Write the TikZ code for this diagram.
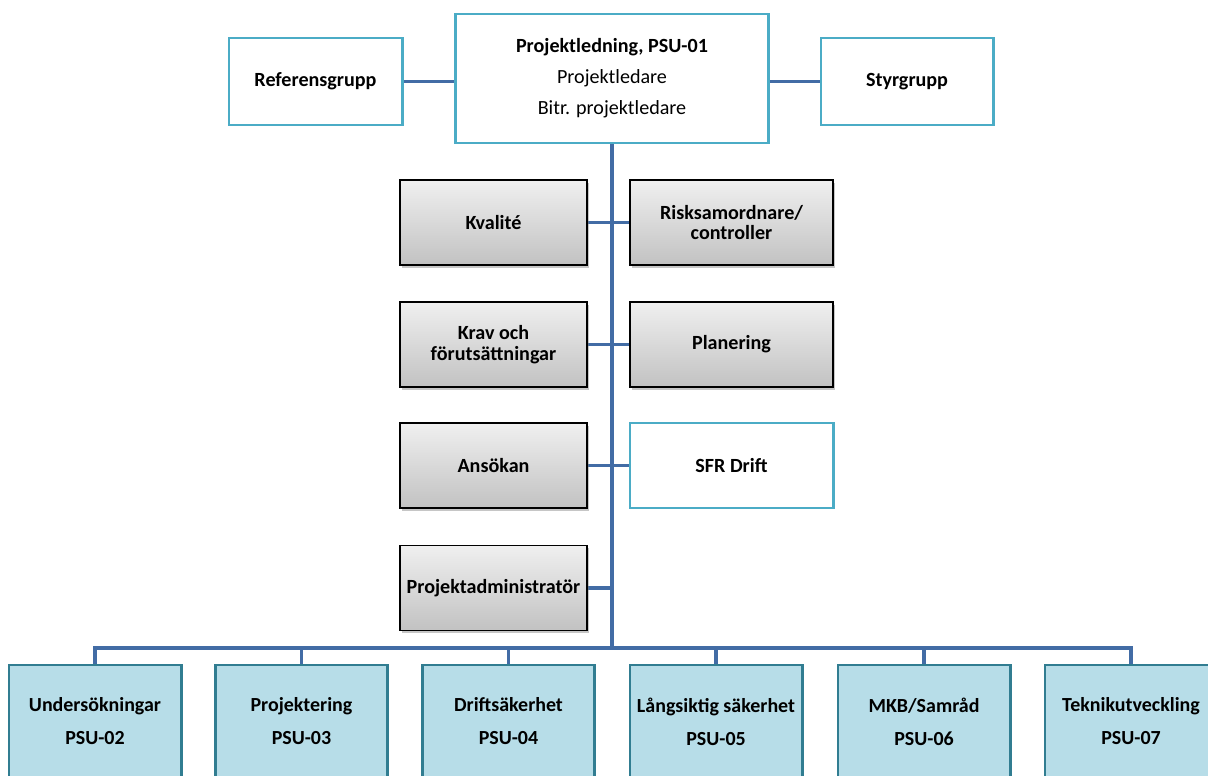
\documentclass[tikz,border=0pt]{standalone}
\usepackage{fontspec}
\setmainfont{Carlito}
\usetikzlibrary{shadows,backgrounds}
\definecolor{tealb}{RGB}{75,172,198}
\definecolor{linkc}{RGB}{66,108,165}
\definecolor{psufill}{RGB}{183,221,232}
\definecolor{psubord}{RGB}{49,125,145}
\begin{document}
\begin{tikzpicture}[x=0.025cm,y=-0.025cm,
  base/.style={font=\fontsize{14.3}{14.6}\selectfont\bfseries, align=center, inner sep=2pt},
  topbox/.style={base, draw=tealb, line width=2.1pt, fill=white},
  graybox/.style={base, draw=black, line width=1.2pt, top color=gray!12, bottom color=gray!48,
     minimum height=2.125cm, drop shadow={shadow xshift=1.5pt, shadow yshift=-1.8pt, opacity=0.45}},
  lbox/.style={graybox, minimum width=4.675cm},
  rbox/.style={graybox, minimum width=5.075cm},
  psubox/.style={base, font=\fontsize{14.2}{23.4}\selectfont\bfseries, draw=psubord, line width=2.1pt, fill=psufill,
     minimum width=4.3cm, minimum height=2.825cm},
  link/.style={draw=linkc, line width=2.8pt}
]
\useasboundingbox (0,0) rectangle (1208,775);
\clip (0,0) rectangle (1208,775);
% top row
\node[topbox, minimum width=4.325cm, minimum height=2.175cm] (ref) at (315.5,81.5) {Referensgrupp};
\node[topbox, minimum width=7.8cm, minimum height=3.225cm,
      font=\fontsize{14.3}{22}\selectfont] (pl) at (612,78.5)
      {\textbf{Projektledning, PSU-01}\\Projektledare\\Bitr. projektledare};
\node[topbox, minimum width=4.3cm, minimum height=2.175cm] (sty) at (907,81.5) {Styrgrupp};
% staff
\node[lbox] (kval) at (493.5,222.5) {Kvalité};
\node[rbox] (risk) at (731.5,222.5) {Risksamordnare/\\controller};
\node[lbox] (krav) at (493.5,344.5) {Krav och\\förutsättningar};
\node[rbox] (plan) at (731.5,344.5) {Planering};
\node[lbox] (ans) at (493.5,465.5) {Ansökan};
\node[topbox, minimum width=5.075cm, minimum height=2.125cm] (sfr) at (731.5,465.5) {SFR Drift};
\node[lbox] (padm) at (493.5,588) {Projektadministratör};
% PSU row
\node[psubox] (u) at (95,721.5) {Undersökningar\\PSU-02};
\node[psubox] (p) at (301.5,721.5) {Projektering\\PSU-03};
\node[psubox] (d) at (508.5,721.5) {Driftsäkerhet\\PSU-04};
\node[psubox] (l) at (716,721.5) {Långsiktig säkerhet\\PSU-05};
\node[psubox] (m) at (924,721.5) {MKB/Samråd\\PSU-06};
\node[psubox] (t) at (1131,721.5) {Teknikutveckling\\PSU-07};
\coordinate (bus) at (612,648);
\begin{pgfonlayer}{background}
\draw[link] (ref.east) -- (ref.east -| pl.west);
\draw[link] (sty.west) -- (sty.west -| pl.east);
\draw[link] (pl.south) -- (bus);
\draw[link] (kval.east) -- (risk.west);
\draw[link] (krav.east) -- (plan.west);
\draw[link] (ans.east) -- (sfr.west);
\draw[link] (padm.east) -- (padm.east -| bus);
\draw[link] (u.north) -- (u.north |- bus) -- (t.north |- bus) -- (t.north);
\draw[link] (p.north) -- (p.north |- bus);
\draw[link] (d.north) -- (d.north |- bus);
\draw[link] (l.north) -- (l.north |- bus);
\draw[link] (m.north) -- (m.north |- bus);
\end{pgfonlayer}
\end{tikzpicture}
\end{document}
